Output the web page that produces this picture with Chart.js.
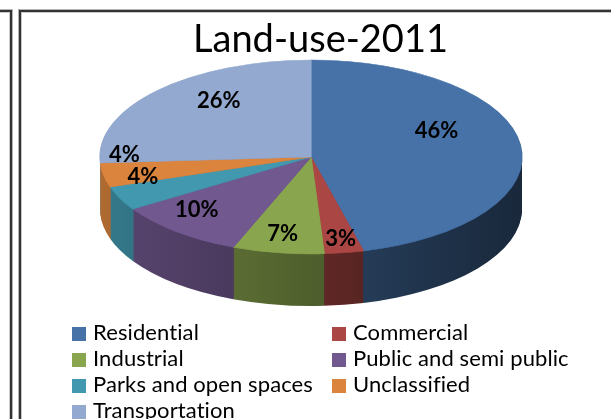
<!DOCTYPE html>
<html>
<head>
<meta charset="utf-8">
<script src="https://cdn.jsdelivr.net/npm/chart.js@4/dist/chart.umd.min.js"></script>
<style>
  html, body { margin: 0; padding: 0; background: #fff; }
  body { width: 611px; height: 419px; position: relative; overflow: hidden; }
  /* chart area frames */
  .frame {
    position: absolute;
    border: 2px solid #333;
    box-shadow: 0 0 0 1px #b4b4b4, inset 0 0 0 1px #c8c8c8;
  }
  #prevFrame { left: -40px; top: 10px; width: 48px; height: 600px; }
  #mainFrame { left: 19px; top: 10px; width: 700px; height: 600px; }
  #landChart { position: absolute; left: 0; top: 0; }
</style>
</head>
<body>
<div class="frame" id="prevFrame"></div>
<div class="frame" id="mainFrame"></div>
<canvas id="landChart" width="611" height="419"></canvas>
<script>
// land use shares, 2011 (percent)
const categories = ['Residential', 'Commercial', 'Industrial', 'Public and semi public',
                    'Parks and open spaces', 'Unclassified', 'Transportation'];
const shares = [46, 3, 7, 10, 4, 4, 26];
const sliceColors = ['#4672A8', '#AA4643', '#89A54E', '#71588F', '#4198AF', '#DB843D', '#93A9CF'];

// how far out along each slice the percentage sits (fraction of radius)
const labelRadius = [0.6, 0.9, 0.86, 0.85, 0.88, 0.9, 0.6];

// tilted pie geometry on screen; lift = how much the hub rises with the tilt
const pie = { cx: 311, cy: 157, rx: 211, ry: 97, depth: 52, lift: 19 };
const FONT = 'Lato, "Open Sans", sans-serif';

const shade = (hex, f) => {
  const n = parseInt(hex.slice(1), 16);
  const r = Math.round(((n >> 16) & 255) * f);
  const g = Math.round(((n >> 8) & 255) * f);
  const b = Math.round((n & 255) * f);
  return 'rgb(' + r + ',' + g + ',' + b + ')';
};

// squashes the round pie into an ellipse and extrudes a darker rim under it
const tiltPlugin = {
  id: 'tilt',
  beforeDatasetsDraw(chart) {
    const ctx = chart.ctx;
    const arcs = chart.getDatasetMeta(0).data;
    const a0 = arcs[0];
    const R = a0.outerRadius;
    const sx = pie.rx / R, sy = pie.ry / R;
    ctx.save();
    ctx.translate(pie.cx, pie.cy);
    ctx.scale(sx, sy);
    ctx.translate(-a0.x, -a0.y);

    const fills = arcs.map((arc, i) => {
      const g = ctx.createLinearGradient(a0.x - R, 0, a0.x + R, 0);
      g.addColorStop(0, shade(sliceColors[i], 0.8));
      g.addColorStop(1, shade(sliceColors[i], 0.35));
      return g;
    });
    for (let d = pie.depth; d >= 1; d--) {
      const off = d / sy;
      arcs.forEach((arc, i) => {
        ctx.beginPath();
        ctx.moveTo(arc.x, arc.y + off);
        ctx.arc(arc.x, arc.y + off, arc.outerRadius, arc.startAngle, arc.endAngle);
        ctx.closePath();
        ctx.fillStyle = fills[i];
        ctx.fill();
      });
    }
  },
  afterDatasetsDraw(chart) {
    const ctx = chart.ctx;
    ctx.restore();

    // percentage labels
    const arcs = chart.getDatasetMeta(0).data;
    ctx.save();
    ctx.font = 'bold 22px ' + FONT;
    ctx.fillStyle = '#000';
    ctx.textAlign = 'center';
    ctx.textBaseline = 'middle';
    arcs.forEach((arc, i) => {
      const mid = (arc.startAngle + arc.endAngle) / 2;
      const u = Math.cos(mid) * labelRadius[i];
      const v = Math.sin(mid) * labelRadius[i];
      const x = pie.cx + u * pie.rx;
      const y = pie.cy + v * pie.ry - pie.lift * (1 - v * v);
      ctx.fillText(shares[i] + '%', x, y);
    });
    ctx.restore();
  },
  // two-column legend under the pie
  afterDraw(chart) {
    const ctx = chart.ctx;
    const colX = [72, 332], top = 327, pitch = 26, box = 14;
    ctx.save();
    ctx.font = '22px ' + FONT;
    ctx.letterSpacing = '0.1px';
    ctx.textBaseline = 'alphabetic';
    categories.forEach((name, i) => {
      const x = colX[i % 2];
      const y = top + Math.floor(i / 2) * pitch;
      ctx.fillStyle = sliceColors[i];
      ctx.fillRect(x, y, box, box);
      ctx.fillStyle = '#000';
      ctx.fillText(name, x + 21, y + 13);
    });
    ctx.restore();
  }
};

new Chart(document.getElementById('landChart'), {
  type: 'pie',
  data: {
    labels: categories,
    datasets: [{
      data: shares,
      backgroundColor: sliceColors,
      borderColor: sliceColors,
      borderWidth: 1
    }]
  },
  options: {
    responsive: false,
    animation: false,
    events: [],
    layout: { padding: { left: 30 } },
    plugins: {
      legend: { display: false },
      tooltip: { enabled: false },
      title: {
        display: true,
        text: 'Land-use-2011',
        color: '#000',
        font: { family: FONT, size: 38, weight: 'normal' },
        padding: { top: 17, bottom: 0 }
      }
    }
  },
  plugins: [tiltPlugin]
});
</script>
</body>
</html>
